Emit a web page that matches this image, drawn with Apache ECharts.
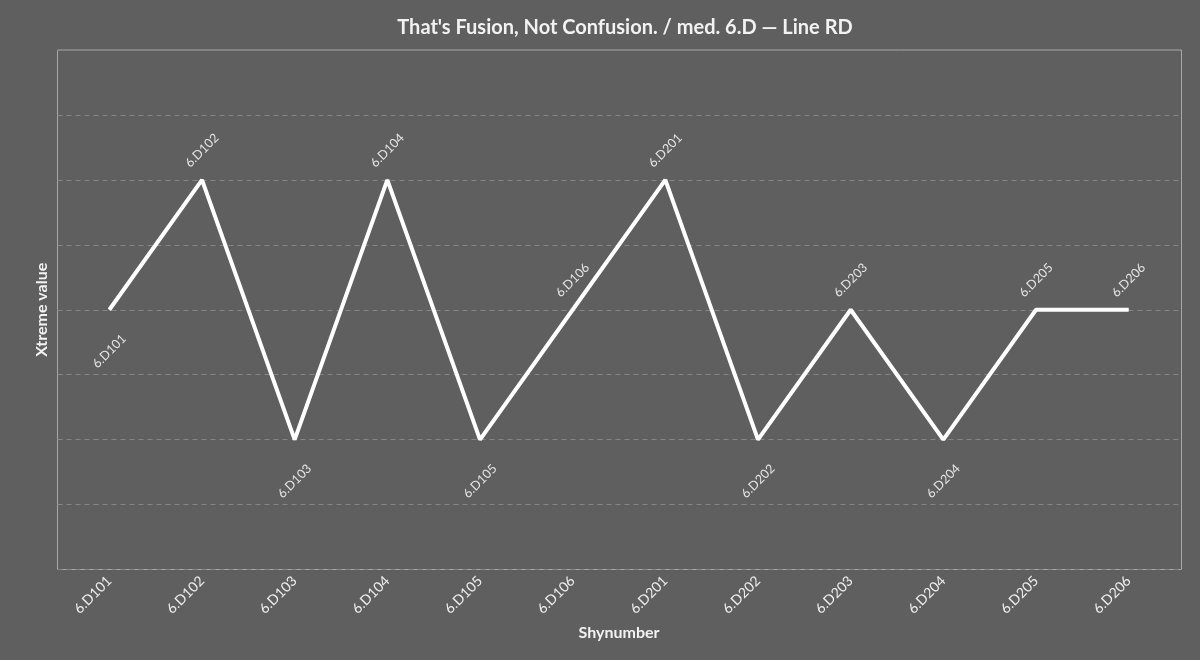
<!DOCTYPE html>
<html><head><meta charset="utf-8">
<script src="https://cdn.jsdelivr.net/npm/echarts@6/dist/echarts.min.js"></script>
<style>html,body{margin:0;padding:0;background:#5f5f5f}#c{width:1200px;height:660px}</style>
</head><body><div id="c"></div>
<script>
const categories = ['6.D101','6.D102','6.D103','6.D104','6.D105','6.D106','6.D201','6.D202','6.D203','6.D204','6.D205','6.D206'];
const values = [2, 3, 1, 3, 1, 2, 3, 1, 2, 1, 2, 2];
const yMin = 0, yMax = 4, yInterval = 0.5;

const font = 'Lato, "Noto Sans", sans-serif';
const data = values.map((v, i) => {
  const ref = i === 0 ? values[1] : values[i - 1];
  const below = v < ref;
  return { value: v, label: { position: below ? 'bottom' : 'top', distance: below ? 41 : 29 } };
});

const chart = echarts.init(document.getElementById('c'));
chart.setOption({
  backgroundColor: '#5f5f5f',
  animation: false,
  title: { text: "That's Fusion, Not Confusion. / med. 6.D — Line RD", left: 620, textAlign: 'center', top: 13,
    textStyle: { color: '#f2f2f2', fontFamily: font, fontWeight: 'bold', fontSize: 20 } },
  grid: [
    { left: 57.5, right: 18.5, top: 50, bottom: 90.5, show: true, borderColor: '#a8a8a8', borderWidth: 1, backgroundColor: 'transparent' },
    { left: 63, right: 25, top: 50, bottom: 90.5 }
  ],
  xAxis: [{
    gridIndex: 0, type: 'value', min: 0, max: 1, show: false
  }, {
    gridIndex: 1, type: 'category', data: categories, boundaryGap: true,
    name: 'Shynumber', nameLocation: 'middle', nameGap: 55,
    nameTextStyle: { color: '#f2f2f2', fontFamily: font, fontWeight: 'bold', fontSize: 16 },
    axisLine: { show: false },
    axisTick: { alignWithLabel: true, length: 5, lineStyle: { color: '#e0e0e0' } },
    axisLabel: { rotate: 45, color: '#eeeeee', fontFamily: font, fontSize: 14, margin: 9 }
  }],
  yAxis: [{
    gridIndex: 0, type: 'value', min: yMin, max: yMax, interval: yInterval,
    name: 'Xtreme value', nameLocation: 'middle', nameGap: 8,
    nameTextStyle: { color: '#f2f2f2', fontFamily: font, fontWeight: 'bold', fontSize: 16 },
    axisLine: { show: false }, axisTick: { show: false }, axisLabel: { show: false },
    splitLine: { lineStyle: { color: '#858585', type: [5, 4], width: 1 } }
  }, {
    gridIndex: 1, type: 'value', min: yMin, max: yMax, interval: yInterval,
    axisLine: { show: false }, axisTick: { show: false }, axisLabel: { show: false }, splitLine: { show: false }
  }],
  series: [{
    type: 'line', data: data, xAxisIndex: 1, yAxisIndex: 1,
    symbol: 'circle', symbolSize: 1, showSymbol: true,
    lineStyle: { color: '#ffffff', width: 4 },
    itemStyle: { color: '#ffffff' },
    label: { show: true, formatter: p => categories[p.dataIndex], rotate: 45, align: 'center', verticalAlign: 'middle',
      color: '#e6e6e6', fontFamily: font, fontSize: 12.5 }
  }]
});
</script></body></html>
